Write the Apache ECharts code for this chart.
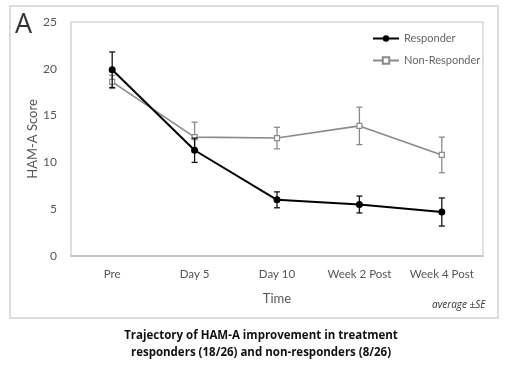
<!DOCTYPE html>
<html><head><meta charset="utf-8">
<script src="https://cdn.jsdelivr.net/npm/echarts@6/dist/echarts.min.js"></script>
<style>html,body{margin:0;padding:0;background:#fff}#c{width:508px;height:367px}</style>
</head><body><div id="c"></div>
<script>
const categories = ['Pre', 'Day 5', 'Day 10', 'Week 2 Post', 'Week 4 Post'];
const responder = [19.9, 11.3, 6.0, 5.5, 4.7];
const responderSE = [1.9, 1.3, 0.85, 0.9, 1.5];
const nonResponder = [18.6, 12.7, 12.6, 13.9, 10.8];
const nonResponderSE = [0.7, 1.6, 1.15, 2.0, 1.9];
const yTicks = [0, 5, 10, 15, 20, 25];

const FONT = 'Lato, "Open Sans", sans-serif';
const CAPFONT = '"Open Sans", "Noto Sans", sans-serif';
const chart = echarts.init(document.getElementById('c'));

function errData(vals, se) {
  return vals.map((v, i) => [i, v - se[i], v + se[i]]);
}
function errSeries(name, vals, se, color, z) {
  return {
    type: 'custom', name: name + ' SE', z: z, silent: true,
    data: errData(vals, se),
    renderItem: function (params, api) {
      const lo = api.coord([api.value(0), api.value(1)]);
      const hi = api.coord([api.value(0), api.value(2)]);
      const w = 3;
      const st = { stroke: color, lineWidth: 1.3 };
      return { type: 'group', children: [
        { type: 'line', shape: { x1: lo[0], y1: lo[1], x2: hi[0], y2: hi[1] }, style: st },
        { type: 'line', shape: { x1: lo[0] - w, y1: lo[1], x2: lo[0] + w, y2: lo[1] }, style: st },
        { type: 'line', shape: { x1: hi[0] - w, y1: hi[1], x2: hi[0] + w, y2: hi[1] }, style: st }
      ]};
    }
  };
}

chart.setOption({
  animation: false,
  backgroundColor: '#fff',
  textStyle: { fontFamily: FONT },
  grid: { left: 71, right: 25, top: 22, bottom: 111 },
  legend: {
    orient: 'vertical', left: 367, top: 28, itemGap: 11, itemWidth: 26, itemHeight: 8,
    textStyle: { color: '#666', fontSize: 11, fontFamily: FONT },
    data: ['Responder', 'Non-Responder']
  },
  xAxis: {
    type: 'category', data: categories, boundaryGap: true,
    name: 'Time', nameLocation: 'middle', nameGap: 36, nameMoveOverlap: false,
    nameTextStyle: { color: '#555', fontSize: 13, fontFamily: FONT },
    axisLine: { lineStyle: { color: '#bbb', width: 1.5 } },
    axisTick: { show: false },
    axisLabel: { color: '#555', fontSize: 11.5, margin: 12, interval: 0, fontFamily: FONT }
  },
  yAxis: {
    type: 'value', min: yTicks[0], max: yTicks[yTicks.length - 1], interval: 5,
    name: 'HAM-A Score', nameLocation: 'middle', nameGap: 32, nameMoveOverlap: false,
    nameTextStyle: { color: '#555', fontSize: 13, fontFamily: FONT },
    axisLine: { show: true, lineStyle: { color: '#ddd' } },
    axisTick: { show: false },
    splitLine: { show: false },
    axisLabel: { color: '#555', fontSize: 12, margin: 14, fontFamily: FONT }
  },
  graphic: [
    { type: 'rect', shape: { x: 10, y: 6, width: 488, height: 312 }, style: { fill: 'none', stroke: '#d4d4d4', lineWidth: 1.5 }, silent: true, z: -10 },
    { type: 'rect', shape: { x: 71, y: 22, width: 412, height: 234 }, style: { fill: 'none', stroke: '#d8d8d8', lineWidth: 1.5 }, silent: true, z: -5 },
    { type: 'text', x: 15, y: 12, style: { text: 'A', fontSize: 27, fill: '#333', fontFamily: CAPFONT } },
    { type: 'text', x: 432, y: 300, style: { text: 'average ±SE', fontSize: 10, fontStyle: 'italic', fill: '#333', fontFamily: CAPFONT } },
    { type: 'text', x: 261, y: 327, style: {
        text: 'Trajectory of HAM-A improvement in treatment\nresponders (18/26) and non-responders (8/26)',
        fontSize: 11.5, fontWeight: 'bold', fill: '#111', textAlign: 'center', align: 'center', lineHeight: 17, fontFamily: CAPFONT } }
  ],
  series: [
    errSeries('Non-Responder', nonResponder, nonResponderSE, '#8a8a8a', 2),
    {
      name: 'Non-Responder', type: 'line', data: nonResponder, z: 3,
      symbol: 'rect', symbolSize: 5,
      lineStyle: { color: '#8a8a8a', width: 1.6 },
      itemStyle: { color: '#fff', borderColor: '#8a8a8a', borderWidth: 1.2 }
    },
    errSeries('Responder', responder, responderSE, '#111', 4),
    {
      name: 'Responder', type: 'line', data: responder, z: 5,
      symbol: 'circle', symbolSize: 7,
      lineStyle: { color: '#000', width: 2 },
      itemStyle: { color: '#000' }
    }
  ]
});
</script></body></html>
